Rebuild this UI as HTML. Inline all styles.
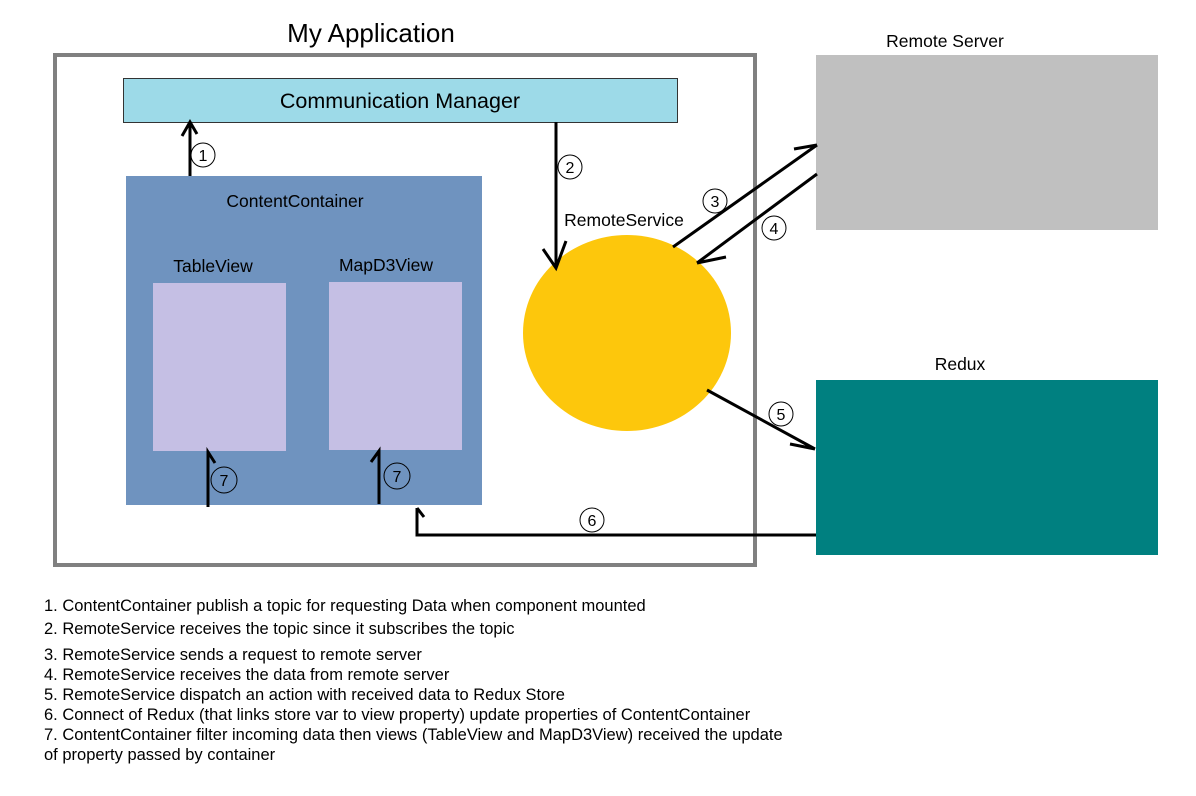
<!DOCTYPE html>
<html><head><meta charset="utf-8"><style>
body{margin:0;background:#fff;}
svg{display:block;font-family:"Liberation Sans","DejaVu Sans",sans-serif;}
</style></head><body>
<svg width="1196" height="796" viewBox="0 0 1196 796">
<rect width="1196" height="796" fill="#fff"/>
<text x="371" y="42" font-size="26" text-anchor="middle" fill="#000">My Application</text>
<rect x="55" y="55" width="700" height="510" fill="none" stroke="#808080" stroke-width="4"/>
<rect x="123.5" y="78.5" width="554" height="44" fill="#9ddae8" stroke="#333" stroke-width="1"/>
<text x="400" y="108" font-size="21.5" text-anchor="middle">Communication Manager</text>
<rect x="126" y="176" width="356" height="329" fill="#6f93bf"/>
<text x="295" y="207" font-size="17.5" text-anchor="middle">ContentContainer</text>
<rect x="153" y="283" width="133" height="168" fill="#c5bfe4"/>
<text x="213" y="272" font-size="17.5" text-anchor="middle">TableView</text>
<rect x="329" y="282" width="133" height="168" fill="#c5bfe4"/>
<text x="386" y="271" font-size="17.5" text-anchor="middle">MapD3View</text>
<ellipse cx="627" cy="333" rx="104" ry="98" fill="#fdc70c"/>
<text x="624" y="226" font-size="17.5" text-anchor="middle">RemoteService</text>
<rect x="816" y="55" width="342" height="175" fill="#c0c0c0"/>
<text x="945" y="47" font-size="17.5" text-anchor="middle">Remote Server</text>
<rect x="816" y="380" width="342" height="175" fill="#008080"/>
<text x="960" y="370" font-size="17.5" text-anchor="middle">Redux</text>
<g stroke="#000" stroke-width="3" fill="none">
<path d="M190 176 V122 M182 136 L190 122 L197 134"/>
<path d="M556 122 V268 M543 249 L556 268 L566 241"/>
<path d="M673 247 L817 145 M794 149 L817 145 M673 247"/>
<path d="M817 174 L697 263 M697 263 L726 257"/>
<path d="M707 390 L815 449 M790 444 L815 449"/>
<path d="M816 535 H417 V508 M417 508 L424 517"/>
<path d="M208 507 V452 L215 463"/>
<path d="M379 504 V451 L371 462"/>
</g>
<g stroke="#000" stroke-width="1" fill="none">
<circle cx="203" cy="155" r="12"/><circle cx="570" cy="167" r="12"/>
<circle cx="715" cy="201" r="12"/><circle cx="774" cy="228" r="12"/>
<circle cx="781" cy="414" r="12"/><circle cx="592" cy="520" r="12"/>
<circle cx="224" cy="480" r="13"/><circle cx="397" cy="476" r="13"/>
</g>
<g font-size="16" text-anchor="middle">
<text x="203" y="161">1</text><text x="570" y="173">2</text>
<text x="715" y="207">3</text><text x="774" y="234">4</text>
<text x="781" y="420">5</text><text x="592" y="526">6</text>
<text x="224" y="486">7</text><text x="397" y="482">7</text>
</g>
<g font-size="16.5">
<text x="44" y="611">1. ContentContainer publish a topic for requesting Data when component mounted</text>
<text x="44" y="634">2. RemoteService receives the topic since it subscribes the topic</text>
<text x="44" y="660">3. RemoteService sends a request to remote server</text>
<text x="44" y="680">4. RemoteService receives the data from remote server</text>
<text x="44" y="700">5. RemoteService dispatch an action with received data to Redux Store</text>
<text x="44" y="720">6. Connect of Redux (that links store var to view property) update properties of ContentContainer</text>
<text x="44" y="740">7. ContentContainer filter incoming data then views (TableView and MapD3View) received the update</text>
<text x="44" y="760">of property passed by container</text>
</g>
</svg>
</body></html>
